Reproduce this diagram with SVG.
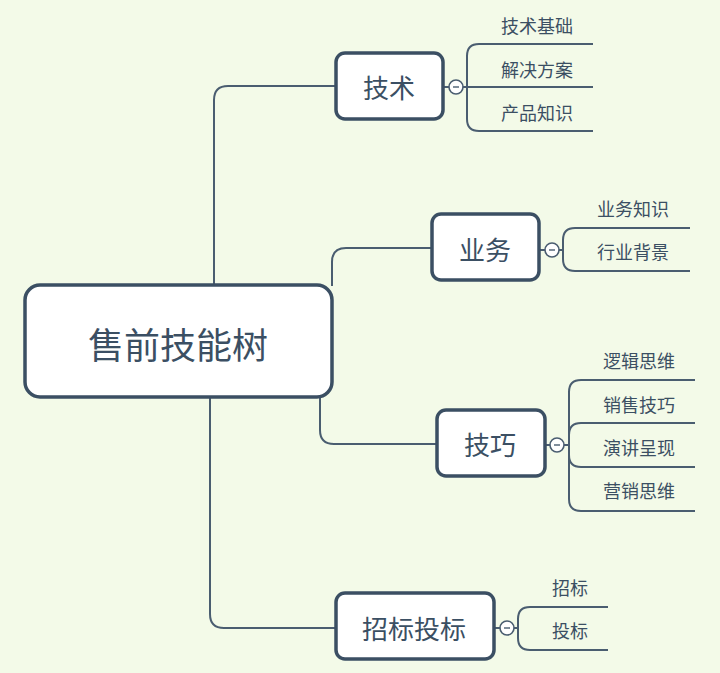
<svg xmlns="http://www.w3.org/2000/svg" width="720" height="673" viewBox="0 0 720 673">
<style>
.bg{fill:#f3fae8}
.node{fill:#ffffff;stroke:#3b4f63;stroke-width:3.5}
.t{font-family:"Noto Sans CJK SC","Noto Sans",sans-serif;fill:#3b4f63;text-anchor:middle;dominant-baseline:central}
.root{font-size:36px}
.main{font-size:26px}
.leaf{font-size:18px}
.c{fill:none;stroke:#4a5d70;stroke-width:2}
.col{fill:#ffffff;stroke:#4a5d70;stroke-width:1.6}
.minus{stroke:#4a5d70;stroke-width:1.4}
</style>
<rect class="bg" x="0" y="0" width="720" height="673"/>
<g id="connectors">
<path class="c" d="M214,285 V100 Q214,86 228,86 H335"/>
<path class="c" d="M332,286 V262 Q332,248 346,248 H431"/>
<path class="c" d="M320,397 V430 Q320,444 334,444 H436"/>
<path class="c" d="M210,397 V614 Q210,628 224,628 H335"/>
<!-- 技术 children -->
<path class="c" d="M443,87 H449"/>
<path class="c" d="M463,87 H467 V56 Q467,44 479,44 H593"/>
<path class="c" d="M463,87 H593"/>
<path class="c" d="M463,87 H467 V119 Q467,131 479,131 H593"/>
<!-- 业务 children -->
<path class="c" d="M539,250 H545"/>
<path class="c" d="M559,250 H563 V240 Q563,228 575,228 H690"/>
<path class="c" d="M559,250 H563 V259 Q563,271 575,271 H690"/>
<!-- 技巧 children -->
<path class="c" d="M545,445 H550"/>
<path class="c" d="M564,445 H569 V392 Q569,380 581,380 H695"/>
<path class="c" d="M564,445 H569 V435 Q569,423 581,423 H695"/>
<path class="c" d="M564,445 H569 V455 Q569,467 581,467 H695"/>
<path class="c" d="M564,445 H569 V499 Q569,511 581,511 H695"/>
<!-- 招标投标 children -->
<path class="c" d="M494,628 H500"/>
<path class="c" d="M514,628 H518 V619 Q518,607 530,607 H608"/>
<path class="c" d="M514,628 H518 V638 Q518,650 530,650 H608"/>
</g>
<g id="root">
<rect class="node" x="25" y="285" width="307" height="112" rx="15"/>
<text class="t root" x="178" y="343">售前技能树</text>
</g>
<g id="n-jishu">
<rect class="node" x="336" y="53" width="107" height="66" rx="9"/>
<text class="t main" x="389" y="86">技术</text>
<circle class="col" cx="456" cy="87" r="7"/>
<line class="minus" x1="453" y1="87" x2="459" y2="87"/>
</g>
<g id="n-yewu">
<rect class="node" x="432" y="214" width="107" height="66" rx="9"/>
<text class="t main" x="485" y="248">业务</text>
<circle class="col" cx="552" cy="250" r="7"/>
<line class="minus" x1="549" y1="250" x2="555" y2="250"/>
</g>
<g id="n-jiqiao">
<rect class="node" x="437" y="410" width="108" height="66" rx="9"/>
<text class="t main" x="490" y="443">技巧</text>
<circle class="col" cx="557" cy="445" r="7"/>
<line class="minus" x1="554" y1="445" x2="560" y2="445"/>
</g>
<g id="n-zhaobiao">
<rect class="node" x="336" y="593" width="158" height="66" rx="9"/>
<text class="t main" x="414" y="627">招标投标</text>
<circle class="col" cx="507" cy="628" r="7"/>
<line class="minus" x1="504" y1="628" x2="510" y2="628"/>
</g>
<g id="leaves">
<text class="t leaf" x="537" y="25">技术基础</text>
<text class="t leaf" x="537" y="69">解决方案</text>
<text class="t leaf" x="537" y="112">产品知识</text>
<text class="t leaf" x="633" y="208">业务知识</text>
<text class="t leaf" x="633" y="251">行业背景</text>
<text class="t leaf" x="639" y="360">逻辑思维</text>
<text class="t leaf" x="639" y="404">销售技巧</text>
<text class="t leaf" x="639" y="447">演讲呈现</text>
<text class="t leaf" x="639" y="490">营销思维</text>
<text class="t leaf" x="570" y="587">招标</text>
<text class="t leaf" x="570" y="630">投标</text>
</g>
</svg>
